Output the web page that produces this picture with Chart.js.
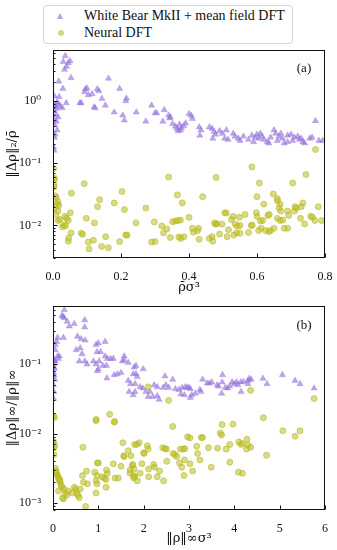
<!DOCTYPE html>
<html lang="en">
<head>
<meta charset="UTF-8" />
<title>Density error comparison</title>
<script src="https://cdn.jsdelivr.net/npm/chart.js"></script>
<style>
  body { margin: 0; background: #fff; }
  #wrap { position: relative; width: 337px; height: 550px; font-family: "Liberation Serif", "DejaVu Serif", serif; color: #111; }
  canvas { position: absolute; left: 0; }
  #legend { position: absolute; left: 43px; top: 5px; width: 250px; height: 39px; border: 1px solid #d4d4d4; border-radius: 4px; box-sizing: border-box; font-size: 14px; }
  .row { position: absolute; left: 40px; height: 16px; line-height: 16px; white-space: nowrap; }
  .tri { position: absolute; left: 13px; width: 0; height: 0; border-left: 3.5px solid transparent; border-right: 3.5px solid transparent; border-bottom: 6px solid rgba(147,112,219,0.65); }
  .dot { position: absolute; left: 14px; width: 6px; height: 6px; border-radius: 50%; background: rgba(188,189,34,0.6); }
</style>
</head>
<body>
<div id="wrap">
  <div id="legend">
    <span class="tri" style="top:7px"></span><div class="row" style="top:2px">White Bear MkII + mean field DFT</div>
    <span class="dot" style="top:24px"></span><div class="row" style="top:19px">Neural DFT</div>
  </div>
  <canvas id="chartA" width="337" height="300" style="top:0"></canvas>
  <canvas id="chartB" width="337" height="255" style="top:295px"></canvas>
</div>
<script>
  // panel (a): mean density vs ||Δρ||2 / mean density
  const wbX_a = [0.004,0.006,0.01,0.004,0.008,0.003,0.01,0.005,0.012,0.006,0.004,0.002,0.003,0.012,0.016,0.008,0.015,0.018,
    0.022,0.027,0.036,0.03,0.045,0.05,0.04,0.034,0.053,0.017,0.029,0.039,
    0.163,0.095,0.1,0.093,0.104,0.115,0.13,0.135,0.144,0.196,0.216,0.214,0.083,0.079,0.121,0.124,0.154,0.18,0.205,0.21,
    0.245,0.273,0.29,0.3,0.305,0.327,0.34,0.343,0.345,0.323,0.352,0.36,0.365,0.372,0.375,0.368,0.378,0.385,0.39,0.40,
    0.407,0.41,0.43,0.435,0.432,0.46,0.468,0.474,0.478,0.47,0.49,0.498,0.51,0.505,0.515,0.53,0.535,0.545,0.55,0.56,
    0.585,0.595,0.6,0.61,0.615,0.62,0.63,0.635,0.65,0.655,0.665,0.67,0.68,0.69,0.7,0.71,0.72,0.725,0.735,0.74,
    0.755,0.762,0.772,0.782,0.793,0.575,0.59,0.605,0.64,0.66,0.675,0.69,0.705,0.73];
  const wbY_a = [1.19,0.87,0.8,0.69,0.6,0.5,0.47,0.41,0.34,0.29,0.26,0.18,0.16,0.95,0.9,0.75,0.55,1.17,
    0.82,0.77,5.3,4.3,4.1,4.4,3.6,3.2,2.35,2.07,1.58,0.93,
    2.3,1.55,1.6,1.4,1.25,1.3,1.55,1.45,1.09,1.58,1.1,1.0,0.93,0.93,0.8,0.77,0.85,0.66,0.59,0.49,
    0.66,0.47,0.85,0.64,0.64,0.72,0.59,0.53,0.55,0.47,0.43,0.39,0.36,0.42,0.34,0.33,0.37,0.4,0.44,0.62,
    0.58,0.52,0.38,0.34,0.28,0.38,0.36,0.32,0.29,0.25,0.33,0.3,0.34,0.25,0.24,0.3,0.27,0.25,0.23,0.27,
    0.28,0.26,0.29,0.3,0.27,0.24,0.22,0.21,0.34,0.3,0.27,0.3,0.21,0.28,0.29,0.26,0.27,0.24,0.22,0.21,
    0.25,0.26,0.48,0.23,0.23,0.24,0.22,0.25,0.26,0.23,0.25,0.22,0.23,0.25];
  const ndX_a = [0.002,0.004,0.003,0.006,0.004,0.003,0.092,0.054,0.137,0.203,0.34,0.366,0.44,0.48,0.585,0.607,0.6,0.648,0.66,0.705,0.744,0.772,
    0.01,0.014,0.012,0.017,0.015,0.005,0.008,0.098,0.051,0.035,0.04,0.045,0.015,0.02,0.032,0.028,0.037,0.053,0.046,0.045,
    0.083,0.087,0.104,0.106,0.119,0.122,0.131,0.143,0.163,0.155,0.18,0.196,0.21,0.214,0.218,0.244,0.273,0.29,0.30,0.298,
    0.32,0.325,0.335,0.345,0.352,0.36,0.368,0.375,0.38,0.37,0.376,0.385,0.40,0.41,0.413,0.425,0.428,0.43,0.46,0.468,
    0.47,0.475,0.478,0.482,0.49,0.497,0.505,0.51,0.512,0.516,0.525,0.53,0.532,0.536,0.542,0.55,0.54,0.55,0.548,0.565,
    0.575,0.583,0.586,0.598,0.6,0.605,0.61,0.612,0.62,0.617,0.632,0.636,0.625,0.635,0.64,0.65,0.66,0.665,0.66,0.668,
    0.676,0.668,0.67,0.68,0.69,0.69,0.693,0.71,0.712,0.716,0.73,0.735,0.728,0.74,0.758,0.763,0.77,0.78,0.79];
  const ndY_a = [0.082,0.058,0.045,0.03,0.055,0.041,0.047,0.033,0.026,0.035,0.06,0.031,0.029,0.059,0.087,0.048,0.029,0.032,0.027,0.048,0.066,0.166,
    0.028,0.024,0.022,0.021,0.017,0.019,0.015,0.013,0.016,0.014,0.013,0.012,0.012,0.0125,0.0102,0.0095,0.0098,0.0076,0.0063,0.0056,
    0.0075,0.0072,0.0054,0.0042,0.0058,0.011,0.02,0.0046,0.0044,0.0066,0.023,0.0055,0.018,0.007,0.007,0.011,0.019,0.0054,0.0055,0.0114,
    0.0098,0.0076,0.0088,0.0064,0.0115,0.0118,0.012,0.0122,0.023,0.0065,0.0062,0.0066,0.0135,0.009,0.0078,0.0082,0.009,0.006,0.0062,0.0066,
    0.0056,0.011,0.0105,0.0107,0.0073,0.0105,0.016,0.0158,0.0066,0.0085,0.0125,0.014,0.007,0.0105,0.0097,0.01,0.0076,0.0075,0.0135,0.015,
    0.0077,0.010,0.0101,0.016,0.014,0.0083,0.0118,0.009,0.022,0.012,0.0145,0.015,0.0083,0.008,0.0083,0.009,0.025,0.019,0.013,0.012,
    0.0122,0.022,0.017,0.009,0.009,0.017,0.0145,0.017,0.02,0.019,0.02,0.023,0.013,0.0106,0.014,0.0135,0.012,0.02,0.012];

  // panel (b): max density vs ||Δρ||∞ / ||ρ||∞
  const wbX_b = [0.01,0.02,0.03,0.015,0.02,0.04,0.01,0.02,0.015,0.02,0.03,
    0.25,0.2,0.25,0.22,0.31,0.36,0.47,0.7,0.7,0.1,0.23,0.08,0.05,0.05,0.1,0.14,0.05,0.12,
    0.54,0.62,0.71,0.51,0.6,0.64,0.58,0.7,0.75,0.95,1.0,1.15,0.97,1.05,0.89,0.95,1.02,1.15,1.2,1.27,1.33,
    1.0,0.98,1.1,1.18,1.19,1.35,1.42,1.5,1.57,1.53,1.57,1.66,1.79,1.83,1.99,1.77,1.83,1.86,1.66,1.71,
    1.81,1.68,1.81,1.77,1.92,1.98,2.05,2.14,2.1,2.2,2.3,2.34,2.23,2.3,2.43,2.49,2.55,2.64,2.47,2.7,
    2.78,2.85,2.92,2.96,2.82,2.9,3.0,3.03,3.06,3.03,3.14,3.24,3.26,3.3,3.4,3.45,3.5,3.62,3.65,3.73,
    3.72,3.74,3.8,3.85,3.9,3.95,4.0,4.05,4.08,4.14,4.15,4.2,4.3,4.33,4.37,4.3,4.63,4.72,5.06,5.34,5.45,5.76];
  const wbY_b = [0.1,0.09,0.085,0.075,0.069,0.06,0.05,0.04,0.032,0.117,0.11,
    0.6,0.5,0.46,0.48,0.41,0.35,0.38,0.43,0.34,0.24,0.24,0.21,0.19,0.16,0.13,0.13,0.11,0.12,
    0.25,0.23,0.22,0.16,0.17,0.14,0.11,0.11,0.1,0.19,0.2,0.21,0.15,0.15,0.11,0.1,0.11,0.13,0.12,0.12,0.12,
    0.085,0.08,0.095,0.095,0.063,0.07,0.072,0.075,0.13,0.11,0.115,0.105,0.09,0.095,0.085,0.072,0.072,0.066,0.058,0.052,
    0.052,0.04,0.04,0.036,0.047,0.045,0.04,0.04,0.034,0.034,0.035,0.031,0.05,0.047,0.046,0.05,0.046,0.06,0.067,0.044,
    0.043,0.046,0.047,0.046,0.037,0.036,0.046,0.044,0.036,0.033,0.038,0.043,0.04,0.06,0.053,0.053,0.055,0.05,0.048,0.055,
    0.038,0.07,0.046,0.045,0.048,0.055,0.052,0.055,0.05,0.055,0.04,0.056,0.058,0.062,0.06,0.052,0.062,0.052,0.07,0.058,0.052,0.045];
  const ndX_b = [0.01,0.03,0.95,1.25,1.36,2.64,2.55,2.1,4.36,4.64,3.73,3.97,5.07,5.45,5.76,
    0.01,0.02,0.04,0.05,0.07,0.09,0.1,0.12,0.16,0.15,0.18,0.2,0.24,0.12,0.27,0.21,0.23,0.34,0.42,0.5,
    0.66,0.65,0.67,0.53,0.58,0.6,0.72,0.76,0.74,0.92,0.97,0.98,1.0,0.95,0.97,0.95,1.08,1.13,1.17,1.18,
    1.2,1.17,1.33,1.37,1.44,1.54,1.56,1.57,1.5,1.66,1.72,1.75,1.7,1.76,1.79,1.8,1.85,1.7,1.78,1.8,
    1.78,1.86,1.9,1.96,2.0,2.01,1.92,2.08,2.1,2.11,2.11,2.22,2.24,2.3,2.35,2.42,2.47,2.5,2.44,2.51,
    2.65,2.69,2.73,2.81,2.87,2.91,2.79,2.84,2.9,2.89,2.97,3.02,3.02,3.08,3.17,3.19,3.24,3.27,3.3,3.43,
    3.49,3.63,3.69,3.72,3.82,3.9,3.9,4.09,4.18,4.1,4.14,4.18,4.28,4.3,4.27,4.36,4.71,5.34,1.35,0.95,
    0.0,0.02,0.06,0.14,0.3,0.47,0.55];
  const ndY_b = [0.018,0.017,0.016,0.019,0.015,0.0127,0.03,0.047,0.042,0.017,0.0135,0.0137,0.011,0.011,0.032,
    0.0078,0.0063,0.0068,0.0032,0.0029,0.0026,0.0025,0.0023,0.002,0.0022,0.0018,0.0017,0.0016,0.0015,0.0014,0.0012,0.00115,0.0015,0.0014,0.0016,
    0.0064,0.0025,0.002,0.0014,0.0012,0.0016,0.0009,0.0019,0.0029,0.0028,0.0025,0.0038,0.0038,0.0021,0.0019,0.0014,0.0024,0.0023,0.0022,0.003,
    0.0027,0.0017,0.0037,0.0023,0.0023,0.0074,0.0048,0.0047,0.0034,0.0057,0.0048,0.0035,0.003,0.0036,0.0031,0.007,0.007,0.0027,0.0025,0.0024,
    0.0023,0.0021,0.0074,0.0037,0.0053,0.0052,0.0027,0.0067,0.006,0.0031,0.0024,0.0036,0.0033,0.0024,0.0029,0.0063,0.0061,0.006,0.0021,0.004,
    0.0052,0.005,0.0047,0.006,0.006,0.0061,0.0038,0.0033,0.0042,0.0025,0.009,0.0087,0.0037,0.0029,0.0066,0.0052,0.0042,0.0088,0.0088,0.0063,
    0.0033,0.0062,0.0102,0.0096,0.006,0.007,0.0039,0.0028,0.0027,0.0076,0.007,0.0072,0.0083,0.0068,0.006,0.0064,0.0049,0.0092,0.0146,0.0154,
    0.0075,0.005,0.0028,0.0021,0.0013,0.0017,0.0013];

  const xTicksA = [0, 0.8, 0.2];
  const xTicksB = [0, 6, 1];
  const yRangeA = [0.003, 6.6];
  const yRangeB = [0.0008, 0.68];

  const purple = 'rgba(147,112,219,0.62)';
  const olive = 'rgba(188,189,34,0.55)';
  const oliveEdge = 'rgba(180,181,30,0.7)';
  const serif = '"Liberation Serif", "DejaVu Serif", serif';
  const mathFont = '"DejaVu Serif", serif';
  const sup = { '0': '⁰', '1': '¹', '2': '²', '3': '³', '-': '⁻' };

  function pts(xs, ys) { return xs.map((x, i) => ({ x: x, y: ys[i] })); }

  const boxPlugin = {
    id: 'box',
    afterDraw(chart, args, opts) {
      const { ctx, chartArea: a, scales: { x, y } } = chart;
      ctx.save();
      ctx.strokeStyle = '#111';
      ctx.lineWidth = 1;
      const l = Math.round(a.left) + 0.5, r = Math.round(a.right) - 0.5;
      const t = Math.round(a.top) + 0.5, b = Math.round(a.bottom) - 0.5;
      ctx.strokeRect(l, t, r - l, b - t);
      ctx.beginPath();
      const e0 = Math.floor(Math.log10(y.min)), e1 = Math.ceil(Math.log10(y.max));
      for (let e = e0; e <= e1; e++) {
        for (let m = 1; m < 10; m++) {
          const v = m * Math.pow(10, e);
          if (v < y.min || v > y.max) continue;
          const p = Math.round(y.getPixelForValue(v)) + 0.5;
          ctx.moveTo(l, p);
          ctx.lineTo(l + (m === 1 ? 4 : 2), p);
        }
      }
      x.ticks.forEach(tk => {
        const p = Math.round(x.getPixelForValue(tk.value)) + 0.5;
        ctx.moveTo(p, b);
        ctx.lineTo(p, b - 4);
      });
      ctx.stroke();
      ctx.fillStyle = '#111';
      ctx.font = '13px ' + serif;
      ctx.textAlign = 'center';
      ctx.textBaseline = 'middle';
      ctx.fillText(opts.label, a.right - 21, a.top + 19);
      ctx.restore();
    }
  };

  function makeChart(id, wb, nd, xt, yr, xTitle, yTitle, label, pad, xH, xPadB) {
    return new Chart(document.getElementById(id), {
      type: 'scatter',
      data: {
        datasets: [
          { label: 'White Bear MkII + mean field DFT', data: wb, pointStyle: 'triangle', pointRadius: 3.6,
            backgroundColor: purple, borderColor: purple, borderWidth: 0.5, order: 2 },
          { label: 'Neural DFT', data: nd, pointStyle: 'circle', pointRadius: 3,
            backgroundColor: olive, borderColor: oliveEdge, borderWidth: 0.8, order: 1 }
        ]
      },
      options: {
        responsive: false,
        animation: false,
        layout: { padding: pad },
        plugins: { legend: { display: false }, tooltip: { enabled: false }, box: { label: label } },
        scales: {
          x: {
            type: 'linear', min: xt[0], max: xt[1],
            grid: { display: false }, border: { display: false },
            afterFit: s => { s.height = xH; },
            ticks: { stepSize: xt[2], padding: 4, color: '#111', font: { family: serif, size: 12 },
              callback: v => xt[2] < 1 ? v.toFixed(1) : String(Math.round(v)) },
            title: { display: true, text: xTitle, color: '#111', font: { family: mathFont, size: 13 }, padding: { top: 0, bottom: xPadB } }
          },
          y: {
            type: 'logarithmic', min: yr[0], max: yr[1],
            grid: { display: false }, border: { display: false },
            afterFit: s => { s.width = 53; },
            ticks: { autoSkip: false, padding: 4, color: '#111', font: { family: serif, size: 12 },
              callback: v => {
                const e = Math.log10(v);
                if (Math.abs(e - Math.round(e)) > 1e-6) return '';
                return '10' + String(Math.round(e)).split('').map(c => sup[c]).join('');
              } },
            title: { display: true, text: yTitle, color: '#111', font: { family: mathFont, size: 13 }, padding: { top: 5, bottom: 0 } }
          }
        }
      },
      plugins: [boxPlugin]
    });
  }

  makeChart('chartA', pts(wbX_a, wbY_a), pts(ndX_a, ndY_a), xTicksA, yRangeA,
    'ρ̄σ³', '‖Δρ‖₂/ρ̄', '(a)', { top: 50, right: 12, bottom: 0, left: 0 }, 42, 5);
  makeChart('chartB', pts(wbX_b, wbY_b), pts(ndX_b, ndY_b), xTicksB, yRangeB,
    '‖ρ‖∞σ³', '‖Δρ‖∞/‖ρ‖∞', '(b)', { top: 8, right: 12, bottom: 0, left: 0 }, 40, 4);
</script>
</body>
</html>
